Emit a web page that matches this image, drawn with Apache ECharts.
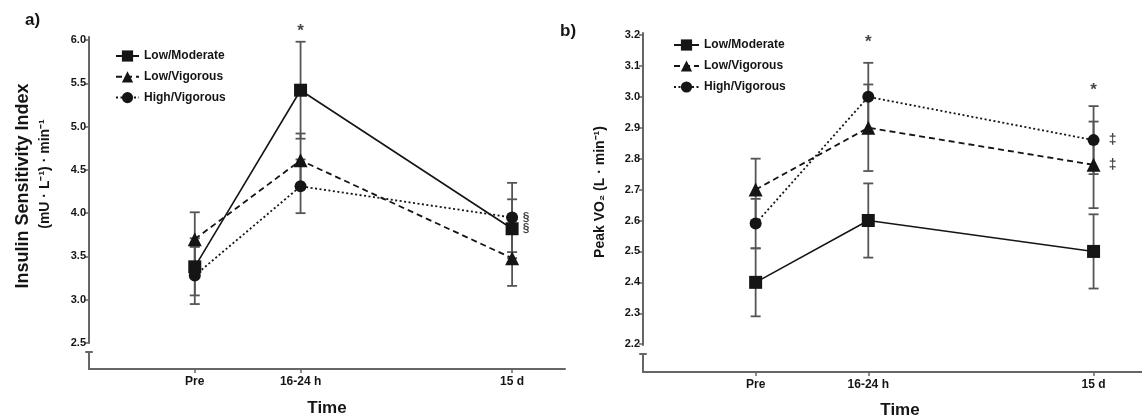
<!DOCTYPE html>
<html>
<head>
<meta charset="utf-8">
<script src="https://cdn.jsdelivr.net/npm/echarts@6/dist/echarts.min.js"></script>
<style>
html,body{margin:0;padding:0;background:#fff;}
#chart{width:1142px;height:419px;}
</style>
</head>
<body>
<div id="chart"></div>
<script>
// ---- data ----
const timeLabels = ['Pre', '16-24 h', '15 d'];
const timeX = [0, 1, 3];
const seriesNames = ['Low/Moderate', 'Low/Vigorous', 'High/Vigorous'];

// a) Insulin sensitivity index
const isiLowModerate = [3.38, 5.42, 3.82];
const isiLowModerateSE = [0.33, 0.56, 0.34];
const isiLowVigorous = [3.70, 4.61, 3.48];
const isiLowVigorousSE = [0.31, 0.31, 0.32];
const isiHighVigorous = [3.28, 4.31, 3.95];
const isiHighVigorousSE = [0.33, 0.31, 0.40];
const isiTicks = [2.5, 3.0, 3.5, 4.0, 4.5, 5.0, 5.5, 6.0];
const isiStars = [[1, 6.10]];
const isiSections = [[3, 3.95], [3, 3.82]];

// b) Peak VO2
const vo2LowModerate = [2.40, 2.60, 2.50];
const vo2LowModerateSE = [0.11, 0.12, 0.12];
const vo2LowVigorous = [2.70, 2.90, 2.78];
const vo2LowVigorousSE = [0.10, 0.14, 0.14];
const vo2HighVigorous = [2.59, 3.00, 2.86];
const vo2HighVigorousSE = [0.08, 0.11, 0.11];
const vo2Ticks = [2.2, 2.3, 2.4, 2.5, 2.6, 2.7, 2.8, 2.9, 3.0, 3.1, 3.2];
const vo2Stars = [[1, 3.175], [3, 3.02]];
const vo2Daggers = [[3, 2.86], [3, 2.78]];

// ---- helpers ----
const FONT = '"Liberation Sans", Arial, sans-serif';
const AXIS_COLOR = '#666';
const INK = '#151515';

const symbols = ['rect', 'triangle', 'circle'];
const symbolSizes = [13, 14, 12];
const lineStyles = [
  {type: 'solid', width: 1.6},
  {type: [6, 4], width: 1.8},
  {type: [2, 2.5], width: 1.8}
];

function pts(vals) { return vals.map((v, i) => [timeX[i], v]); }
function errs(vals, se) { return vals.map((v, i) => [timeX[i], v - se[i], v + se[i]]); }

function renderErr(params, api) {
  const x = api.value(0), lo = api.value(1), hi = api.value(2);
  const p1 = api.coord([x, hi]);
  const p2 = api.coord([x, lo]);
  const w = 5;
  const st = {stroke: '#555', lineWidth: 1.8};
  return {
    type: 'group',
    children: [
      {type: 'line', shape: {x1: p1[0], y1: p1[1], x2: p2[0], y2: p2[1]}, style: st},
      {type: 'line', shape: {x1: p1[0] - w, y1: p1[1], x2: p1[0] + w, y2: p1[1]}, style: st},
      {type: 'line', shape: {x1: p2[0] - w, y1: p2[1], x2: p2[0] + w, y2: p2[1]}, style: st}
    ]
  };
}

function panelSeries(xi, yi, vals, ses) {
  const out = [];
  vals.forEach((v, k) => {
    out.push({
      type: 'custom', xAxisIndex: xi, yAxisIndex: yi, z: 1,
      renderItem: renderErr, data: errs(v, ses[k]),
      encode: {x: 0, y: [1, 2]}, silent: true
    });
  });
  vals.forEach((v, k) => {
    out.push({
      type: 'line', name: seriesNames[k], xAxisIndex: xi, yAxisIndex: yi, z: 3,
      data: pts(v), symbol: symbols[k], symbolSize: symbolSizes[k], showSymbol: true,
      itemStyle: {color: INK}, lineStyle: Object.assign({color: INK}, lineStyles[k]),
      animation: false
    });
  });
  return out;
}

function textSeries(xi, yi, data, text, size, offset) {
  return {
    type: 'scatter', xAxisIndex: xi, yAxisIndex: yi, data: data, symbolSize: 0, clip: false, z: 5,
    label: {show: true, position: 'inside', formatter: text, offset: offset,
      fontFamily: FONT, fontWeight: 'bold', fontSize: size, color: INK}
  };
}

const hiddenAxis = {show: false, min: 0, max: 1};
function lineOnlyAxis(extra) {
  return Object.assign({
    type: 'value', min: 0, max: 1,
    axisLine: {show: true, onZero: false, lineStyle: {color: AXIS_COLOR, width: 2}},
    axisTick: {show: false}, axisLabel: {show: false}, splitLine: {show: false}
  }, extra || {});
}

function dataXAxis(gi, max) {
  return {
    type: 'value', gridIndex: gi, min: -1, max: max,
    axisLine: {show: true, onZero: false, lineStyle: {color: AXIS_COLOR, width: 2}},
    axisTick: {show: true, customValues: timeX, length: 4, lineStyle: {color: AXIS_COLOR, width: 1.5}},
    axisLabel: {customValues: timeX, formatter: v => timeLabels[timeX.indexOf(v)] || '',
      fontFamily: FONT, fontWeight: 'bold', fontSize: 12, color: INK, margin: 7},
    splitLine: {show: false}
  };
}
function dataYAxis(gi, min, max, ticks, digits) {
  return {
    type: 'value', gridIndex: gi, min: min, max: max,
    axisLine: {show: false, onZero: false},
    axisTick: {show: true, customValues: ticks, length: 4, lineStyle: {color: AXIS_COLOR, width: 1.5}},
    axisLabel: {customValues: ticks, formatter: v => v.toFixed(digits),
      fontFamily: FONT, fontWeight: 'bold', fontSize: 11, color: INK, margin: 3},
    splitLine: {show: false}
  };
}

const option = {
  animation: false,
  backgroundColor: '#fff',
  grid: [
    {left: 89, top: 40, width: 476, height: 329},   // 0 a) data
    {left: 89, top: 37, width: 10, height: 306},    // 1 a) upper axis line
    {left: 86, top: 352, width: 6, height: 17},     // 2 a) stub after break
    {left: 643, top: 35, width: 499, height: 337},  // 3 b) data
    {left: 643, top: 33, width: 10, height: 312},   // 4 b) upper axis line
    {left: 640, top: 354, width: 6, height: 18}     // 5 b) stub after break
  ],
  xAxis: [
    dataXAxis(0, 3.5),
    Object.assign({gridIndex: 1}, hiddenAxis),
    lineOnlyAxis({gridIndex: 2, position: 'top'}),
    dataXAxis(3, 3.43),
    Object.assign({gridIndex: 4}, hiddenAxis),
    lineOnlyAxis({gridIndex: 5, position: 'top'})
  ],
  yAxis: [
    dataYAxis(0, 2.2, 6.0, isiTicks, 1),
    lineOnlyAxis({gridIndex: 1}),
    lineOnlyAxis({gridIndex: 2, offset: -3}),
    dataYAxis(3, 2.11, 3.2, vo2Ticks, 1),
    lineOnlyAxis({gridIndex: 4}),
    lineOnlyAxis({gridIndex: 5, offset: -3})
  ],
  legend: [
    {data: seriesNames, orient: 'vertical', left: 110, top: 45, itemWidth: 23, itemHeight: 14, itemGap: 8.8,
      textStyle: {fontFamily: FONT, fontWeight: 'bold', fontSize: 12, color: INK}, selectedMode: false},
    {data: seriesNames, orient: 'vertical', left: 668, top: 34, itemWidth: 25, itemHeight: 14, itemGap: 9,
      textStyle: {fontFamily: FONT, fontWeight: 'bold', fontSize: 12, color: INK}, selectedMode: false}
  ],
  graphic: [
    {type: 'text', left: 25, top: 12, style: {text: 'a)', font: 'bold 17px ' + FONT, fill: INK}},
    {type: 'text', left: 560, top: 23, style: {text: 'b)', font: 'bold 17px ' + FONT, fill: INK}},
    {type: 'text', x: 23, y: 186, rotation: Math.PI / 2,
      style: {text: 'Insulin Sensitivity Index', font: 'bold 18px ' + FONT, fill: INK, align: 'center', verticalAlign: 'middle'}},
    {type: 'text', x: 45, y: 174, rotation: Math.PI / 2,
      style: {text: '(mU · L⁻¹) · min⁻¹', font: 'bold 14px ' + FONT, fill: INK, align: 'center', verticalAlign: 'middle'}},
    {type: 'text', x: 600, y: 192, rotation: Math.PI / 2,
      style: {text: 'Peak VO₂ (L · min⁻¹)', font: 'bold 14px ' + FONT, fill: INK, align: 'center', verticalAlign: 'middle'}},
    {type: 'text', x: 327, y: 408,
      style: {text: 'Time', font: 'bold 17px ' + FONT, fill: INK, align: 'center', verticalAlign: 'middle'}},
    {type: 'text', x: 900, y: 410,
      style: {text: 'Time', font: 'bold 17px ' + FONT, fill: INK, align: 'center', verticalAlign: 'middle'}}
  ],
  series: [].concat(
    panelSeries(0, 0, [isiLowModerate, isiLowVigorous, isiHighVigorous],
      [isiLowModerateSE, isiLowVigorousSE, isiHighVigorousSE]),
    panelSeries(3, 3, [vo2LowModerate, vo2LowVigorous, vo2HighVigorous],
      [vo2LowModerateSE, vo2LowVigorousSE, vo2HighVigorousSE]),
    [
      textSeries(0, 0, isiStars, '*', 17, [0, 0]),
      textSeries(0, 0, isiSections, '§', 12, [14, 0]),
      textSeries(3, 3, vo2Stars, '*', 17, [0, 0]),
      textSeries(3, 3, vo2Daggers, '‡', 14, [19, 0])
    ]
  )
};

const chart = echarts.init(document.getElementById('chart'), null, {renderer: 'canvas'});
chart.setOption(option);
</script>
</body>
</html>
